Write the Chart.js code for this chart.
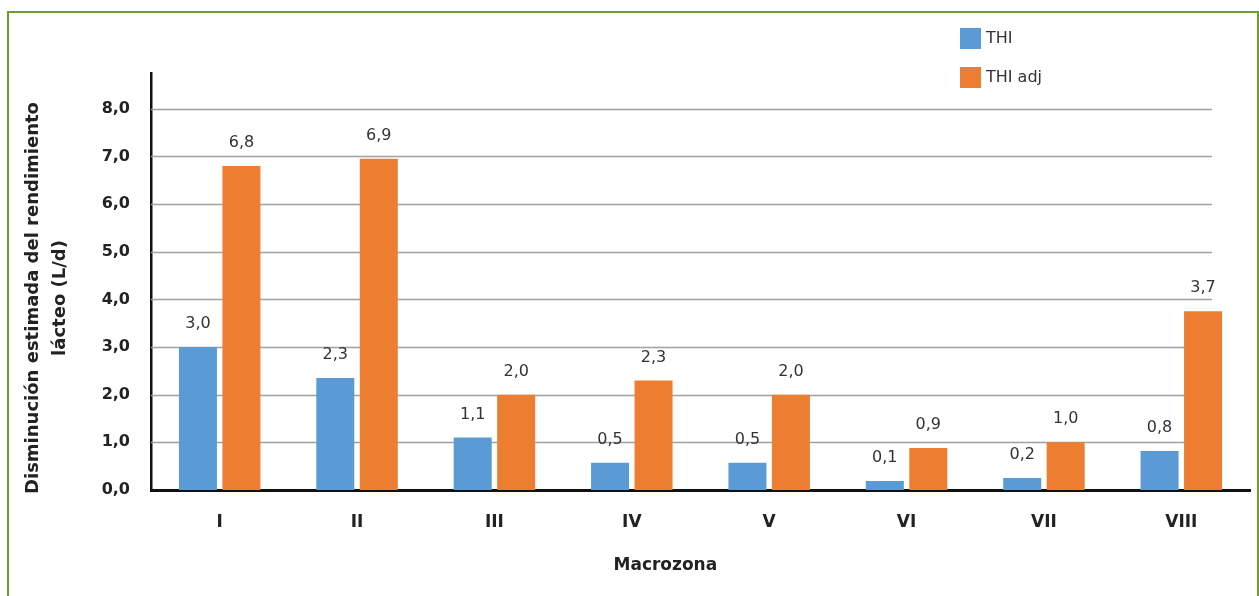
<!DOCTYPE html>
<html>
<head>
<meta charset="utf-8">
<script src="https://cdn.jsdelivr.net/npm/chart.js@4.4.0/dist/chart.umd.min.js"></script>
<style>
  html, body { margin: 0; padding: 0; background: #fff; overflow: hidden; }
  #marco { position: absolute; left: 7px; top: 11px; width: 1248px; height: 640px; border: 2.5px solid #6ba02f; }
  #grafico { position: absolute; left: 0; top: 0; }
</style>
</head>
<body>
<div id="marco"></div>
<canvas id="grafico" width="1259" height="596"></canvas>
<script>
var macrozonas = ['I', 'II', 'III', 'IV', 'V', 'VI', 'VII', 'VIII'];
var valoresTHI = [3.0, 2.35, 1.1, 0.57, 0.57, 0.19, 0.25, 0.82];
var valoresTHIadj = [6.8, 6.95, 2.0, 2.3, 2.0, 0.88, 1.0, 3.75];
var etiquetasTHI = ['3,0', '2,3', '1,1', '0,5', '0,5', '0,1', '0,2', '0,8'];
var etiquetasTHIadj = ['6,8', '6,9', '2,0', '2,3', '2,0', '0,9', '1,0', '3,7'];
var ticksY = [0, 1, 2, 3, 4, 5, 6, 7, 8];
var tituloY = ['Disminución estimada del rendimiento', 'lácteo (L/d)'];
var tituloX = 'Macrozona';

var fuente = 'DejaVu Sans';

// lineas de la grilla, terminan antes del borde derecho
var grilla = {
    id: 'grilla',
    beforeDatasetsDraw: function (chart) {
        var ctx = chart.ctx, area = chart.chartArea, y = chart.scales.y;
        ctx.save();
        ctx.strokeStyle = '#a0a0a0';
        ctx.lineWidth = 1.5;
        ticksY.forEach(function (v) {
            if (v === 0) return;
            var py = Math.round(y.getPixelForValue(v)) + 0.5;
            ctx.beginPath();
            ctx.moveTo(area.left, py);
            ctx.lineTo(area.right - 38, py);
            ctx.stroke();
        });
        ctx.restore();
    }
};

// valores sobre las barras
var etiquetas = {
    id: 'etiquetas',
    afterDatasetsDraw: function (chart) {
        var ctx = chart.ctx;
        var textos = [etiquetasTHI, etiquetasTHIadj];
        ctx.save();
        ctx.font = '16px "' + fuente + '"';
        ctx.fillStyle = '#333';
        ctx.textAlign = 'center';
        ctx.textBaseline = 'middle';
        chart.data.datasets.forEach(function (ds, i) {
            chart.getDatasetMeta(i).data.forEach(function (bar, j) {
                ctx.fillText(textos[i][j], bar.x, bar.y - 23);
            });
        });
        ctx.restore();
    }
};

// titulos de los ejes
var titulos = {
    id: 'titulos',
    afterDraw: function (chart) {
        var ctx = chart.ctx, area = chart.chartArea;
        ctx.save();
        ctx.fillStyle = '#222';
        ctx.textAlign = 'center';
        ctx.textBaseline = 'middle';
        ctx.font = 'bold 17px "' + fuente + '"';
        ctx.fillText(tituloX, area.left + (area.right - area.left) * 0.468, 566);
        ctx.font = 'bold 18px "' + fuente + '"';
        ctx.translate(33, 298);
        ctx.rotate(-Math.PI / 2);
        tituloY.forEach(function (t, i) {
            ctx.fillText(t, 0, i * 27);
        });
        ctx.restore();
    }
};

// leyenda vertical arriba a la derecha
var leyenda = {
    id: 'leyenda',
    afterDraw: function (chart) {
        var ctx = chart.ctx;
        ctx.save();
        ctx.font = '16px "' + fuente + '"';
        ctx.textBaseline = 'middle';
        chart.data.datasets.forEach(function (ds, i) {
            var y0 = 28 + i * 39;
            ctx.fillStyle = ds.backgroundColor;
            ctx.fillRect(960, y0, 21, 21);
            ctx.fillStyle = '#333';
            ctx.fillText(ds.label, 986, y0 + 11);
        });
        ctx.restore();
    }
};

var ctx = document.getElementById('grafico');
new Chart(ctx, {
    type: 'bar',
    data: {
        labels: macrozonas,
        datasets: [{
            label: 'THI',
            data: valoresTHI,
            backgroundColor: '#5b9bd5',
            categoryPercentage: 0.633,
            barPercentage: 0.874
        }, {
            label: 'THI adj',
            data: valoresTHIadj,
            backgroundColor: '#ed7d31',
            categoryPercentage: 0.633,
            barPercentage: 0.874
        }]
    },
    options: {
        responsive: false,
        animation: false,
        devicePixelRatio: 1,
        layout: { padding: { top: 73, left: 8, right: 9, bottom: 0 } },
        plugins: {
            legend: { display: false },
            tooltip: { enabled: false }
        },
        scales: {
            x: {
                grid: { display: false },
                border: { display: true, color: '#111', width: 3 },
                ticks: {
                    color: '#222',
                    padding: 14,
                    font: { family: fuente, size: 17, weight: 'bold' }
                },
                afterFit: function (scale) { scale.height = 106; }
            },
            y: {
                min: 0,
                max: 8.75,
                grid: { display: false },
                border: { display: true, color: '#111', width: 2.5 },
                ticks: {
                    stepSize: 1,
                    color: '#222',
                    padding: 13,
                    font: { family: fuente, size: 16, weight: 'bold' },
                    callback: function (v) { return v.toFixed(1).replace('.', ','); }
                },
                afterBuildTicks: function (scale) {
                    scale.ticks = ticksY.map(function (v) { return { value: v }; });
                },
                afterFit: function (scale) { scale.width = 143; }
            }
        }
    },
    plugins: [grilla, etiquetas, titulos, leyenda]
});
</script>
</body>
</html>
